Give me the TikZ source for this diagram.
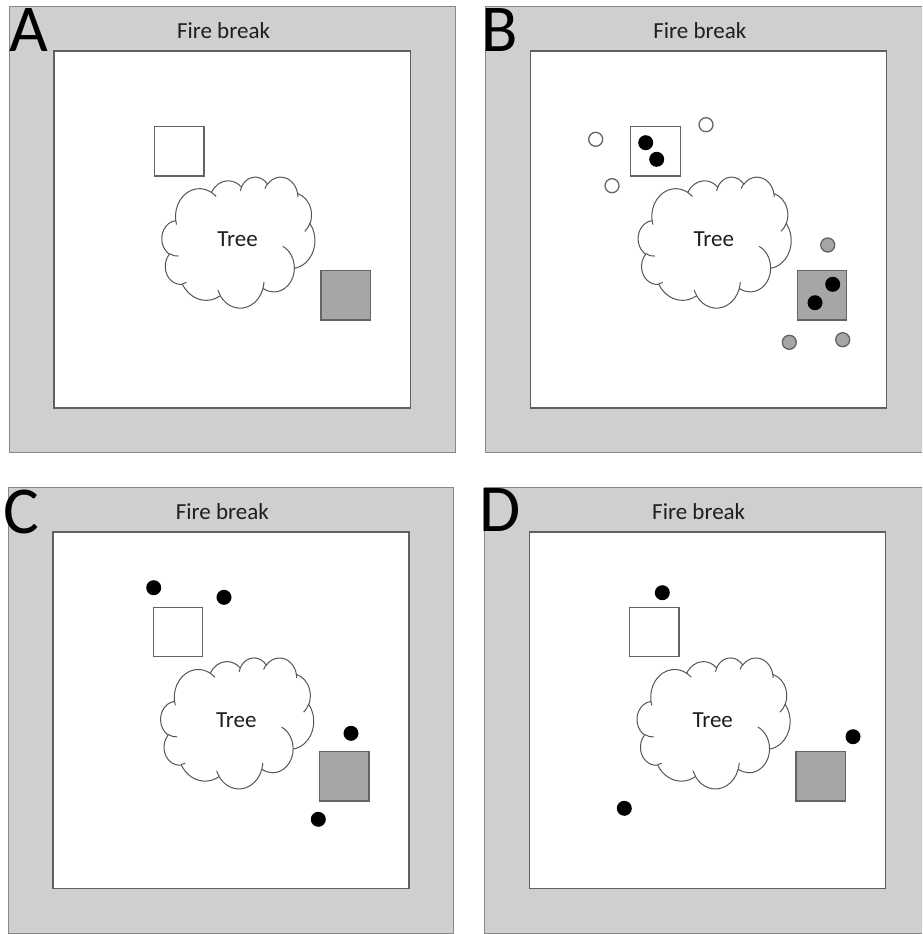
\documentclass[tikz,border=0pt]{standalone}
\usepackage{fontspec}
\setmainfont{Carlito}
\definecolor{fbgray}{RGB}{209,206,207}
\definecolor{edgegray}{RGB}{135,135,135}
\definecolor{fieldedge}{RGB}{95,95,95}
\definecolor{hutedge}{RGB}{100,100,100}
\definecolor{hutfill}{RGB}{166,166,166}
\definecolor{inkgray}{RGB}{30,30,30}
\definecolor{cloudedge}{RGB}{85,85,85}

% one elliptic arc given as in a preset shape: radii, start and sweep (visual angles)
\newcommand\cloudarc[4]{arc[x radius=#1, y radius=#2, start angle={pa(#1,#2,#3)}, delta angle={pd(#1,#2,#3,#4)}]}

% cloud outline in a 43.2 x 43.2 box
\newcommand\treecloud{%
  \filldraw[cloudline, fill=white] (3.900,14.370)
    \cloudarc{6.753}{9.190}{-190.4875}{123.7805}
    \cloudarc{5.333}{7.267}{-144.1024}{89.9452}
    \cloudarc{4.365}{5.945}{-145.8079}{99.7230}
    \cloudarc{4.857}{6.595}{-130.9861}{117.2417}
    \cloudarc{5.333}{7.273}{-78.7089}{109.0269}
    \cloudarc{6.775}{9.220}{-46.2673}{130.2690}
    \cloudarc{5.785}{7.867}{0.6250}{114.0333}
    \cloudarc{6.752}{9.215}{22.4516}{115.1726}
    \cloudarc{7.720}{10.543}{66.2426}{75.7110}
    \cloudarc{4.360}{5.918}{-274.9421}{146.7356}
    \cloudarc{4.345}{5.945}{-246.8285}{152.5189}
    -- cycle;
  \draw[cloudline]
    (4.693,26.177) \cloudarc{4.345}{5.945}{86.7420}{26.4295}
    (6.928,34.899) \cloudarc{4.360}{5.918}{73.6105}{11.4475}
    (16.478,39.090) \cloudarc{6.752}{9.215}{137.6242}{14.0811}
    (28.827,34.751) \cloudarc{6.752}{9.215}{6.4533}{15.9984}
    (34.129,22.954) \cloudarc{5.785}{7.867}{-70.2924}{70.9174}
    (41.798,15.354) \cloudarc{5.333}{7.273}{30.3180}{27.7515}
    (38.324,5.426) \cloudarc{4.857}{6.595}{-13.7443}{14.8589}
    (29.078,3.952) \cloudarc{4.857}{6.595}{-149.1815}{18.1954}
    (22.141,4.720) \cloudarc{4.365}{5.945}{-163.4943}{17.6864}
    (14.000,5.192) \cloudarc{6.753}{9.190}{-66.7070}{12.3194}
    (4.127,15.789) \cloudarc{6.753}{9.190}{157.6544}{11.8582};
}

% one plot: fire break, field, two huts and the tree
\newcommand\plotframe[3]{% #1 name, #2 x offset, #3 y offset
  \begin{scope}[shift={(#2,#3)}]
    \draw[firebreak] (0,0) rectangle (445.5,446);
    \draw[field] (44.6,44.6) rectangle (400.7,401.3);
    \node[label text, anchor=base] (#1-fb) at (214,32.3) {Fire break};
    \node[hut, anchor=north west] (#1-hutw) at (145,120) {};
    \node[hut, fill=hutfill, anchor=north west] (#1-hutg) at (311.4,264.2) {};
    \begin{scope}[shift={(152.4,170.2)}, x=3.5417pt, y=-3.0324pt]
      \treecloud
    \end{scope}
    \node[label text, anchor=base] (#1-tree) at (228,239.8) {Tree};
  \end{scope}}

\tikzset{
  declare function={
    pa(\w,\h,\a)=atan2(\w*sin(\a),\h*cos(\a));
    pd(\w,\h,\a,\s)=mod(pa(\w,\h,\a+\s)-pa(\w,\h,\a)+720,360);
  },
  firebreak/.style={fill=fbgray, draw=edgegray, line width=1pt},
  field/.style={fill=white, draw=fieldedge, line width=1.4pt},
  hut/.style={draw=hutedge, fill=white, line width=1.3pt, minimum size=49.4pt, inner sep=0pt, outer sep=0pt},
  cloudline/.style={draw=cloudedge, line width=1pt},
  label text/.style={font=\fontsize{23}{23}\selectfont, text=inkgray, inner sep=0pt},
  panel letter/.style={font=\fontsize{67}{67}\selectfont, text=black, inner sep=0pt, anchor=base west},
  dot/.style={circle, fill=black, minimum size=15pt, inner sep=0pt},
  open dot/.style={circle, fill=white, draw=hutedge, line width=1.3pt, minimum size=14pt, inner sep=0pt},
  grey dot/.style={circle, fill=hutfill, draw=hutedge, line width=1.3pt, minimum size=14pt, inner sep=0pt},
}

\begin{document}
\begin{tikzpicture}[x=1pt, y=-1pt]
  \useasboundingbox (0,0) rectangle (922,934);
  \clip (0,0) rectangle (922,934);

  \plotframe{A}{9.5}{6.5}
  \plotframe{B}{485.8}{6.5}
  \plotframe{C}{8.3}{487.3}
  \plotframe{D}{484.7}{487.3}

  % panel letters
  \node[panel letter] (lA) at (9.2,52) {A};
  \node[panel letter] (lB) at (481.5,51.7) {B};
  \node[panel letter] (lC) at (3,533.5) {C};
  \node[panel letter] (lD) at (479,531) {D};

  % B: occupants inside the huts and around them
  \node[dot] (B-w1) at (645.7,142.7) {};
  \node[dot] (B-w2) at (656.7,159.3) {};
  \node[dot] (B-g1) at (832.7,284.3) {};
  \node[dot] (B-g2) at (815,302.7) {};
  \node[open dot] (B-o1) at (595.7,139.3) {};
  \node[open dot] (B-o2) at (706,124.7) {};
  \node[open dot] (B-o3) at (612,185.7) {};
  \node[grey dot] (B-s1) at (827.7,245) {};
  \node[grey dot] (B-s2) at (789.3,342.3) {};
  \node[grey dot] (B-s3) at (842.7,339.7) {};

  % C
  \node[dot] (C-d1) at (153.7,587.7) {};
  \node[dot] (C-d2) at (224,597.3) {};
  \node[dot] (C-d3) at (351,733.3) {};
  \node[dot] (C-d4) at (318.3,819.3) {};

  % D
  \node[dot] (D-d1) at (662.3,592.7) {};
  \node[dot] (D-d2) at (853,736.7) {};
  \node[dot] (D-d3) at (624.3,808.3) {};
\end{tikzpicture}
\end{document}
